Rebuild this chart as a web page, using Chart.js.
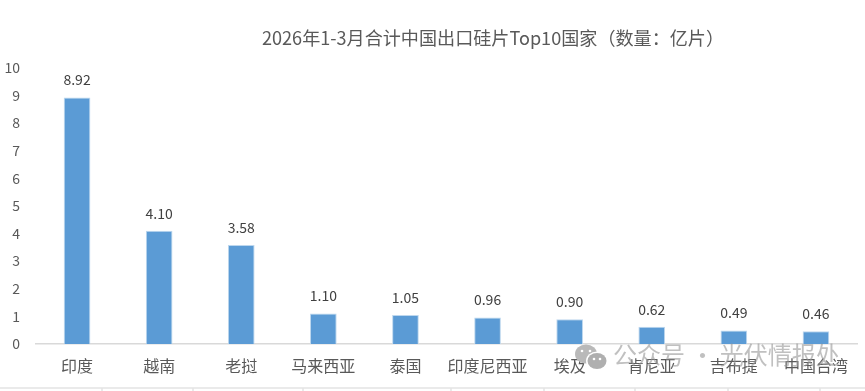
<!DOCTYPE html>
<html><head><meta charset="utf-8">
<script src="https://cdn.jsdelivr.net/npm/chart.js@4/dist/chart.umd.min.js"></script>
<style>html,body{margin:0;padding:0;background:#fff}#w{width:865px;height:391px;position:relative}</style>
</head><body><div id="w"><canvas id="c"></canvas></div>
<script>
const titleText = '2026年1-3月合计中国出口硅片Top10国家（数量：亿片）';
const categories = ['印度','越南','老挝','马来西亚','泰国','印度尼西亚','埃及','肯尼亚','吉布提','中国台湾'];
const values = [8.92,4.10,3.58,1.10,1.05,0.96,0.90,0.62,0.49,0.46];
const yTicks = {min:0,max:10,step:1};
const watermark = '公众号 · 光伏情报处';
const cellTicks = [102,193,303,451,544,635,728,820];
const FONT = '"Noto Sans CJK SC","Noto Sans",sans-serif';

const deco = {
  id:'deco',
  afterLayout(ch){ ch.titleBlock.left = 121; ch.titleBlock.right = 865; },
  beforeDraw(ch){
    const c = ch.ctx; c.save();
    c.strokeStyle = '#E4E4E4'; c.lineWidth = 1.5;
    c.beginPath(); c.moveTo(0,388); c.lineTo(865,388);
    cellTicks.forEach(x=>{c.moveTo(x,388); c.lineTo(x,391);});
    c.stroke(); c.restore();
  },
  afterDatasetsDraw(ch){
    const c = ch.ctx, m = ch.getDatasetMeta(0); c.save();
    c.font = '14px '+FONT; c.fillStyle = '#404040';
    c.textAlign = 'center'; c.textBaseline = 'middle';
    m.data.forEach((b,i)=>c.fillText(values[i].toFixed(2), b.x, b.y-17.5));
    c.restore();
  },
  afterDraw(ch){
    const c = ch.ctx; c.save();
    c.fillStyle = 'rgba(150,150,150,0.6)';
    c.font = '24px '+FONT; c.textAlign='left'; c.textBaseline='middle';
    c.fillText(watermark, 613, 355);
    c.fillStyle = 'rgb(185,185,185)';
    c.beginPath(); c.ellipse(586,354,11,9.5,0,0,Math.PI*2); c.fill();
    c.fillStyle='#fff'; c.beginPath(); c.ellipse(597,361,11,9.5,0,0,Math.PI*2); c.fill();
    c.fillStyle = 'rgb(175,175,175)';
    c.beginPath(); c.ellipse(597,361,9.5,8,0,0,Math.PI*2); c.fill();
    c.fillStyle='#fff';
    [[582,351],[590,351],[594,359],[600,359]].forEach(p=>{c.beginPath();c.arc(p[0],p[1],1.3,0,Math.PI*2);c.fill();});
    c.restore();
  }
};

new Chart(document.getElementById('c'),{
  type:'bar',
  data:{labels:categories,datasets:[{data:values,backgroundColor:'#5B9BD5',borderColor:'#BDD7EE',borderWidth:{left:1,right:1,top:1,bottom:0},barPercentage:0.325,categoryPercentage:1}]},
  options:{
    responsive:true,maintainAspectRatio:false,animation:false,
    layout:{padding:{top:0,right:8,bottom:0,left:0}},
    plugins:{
      legend:{display:false},tooltip:{enabled:false},
      title:{display:true,text:titleText,color:'#595959',font:{family:FONT,size:18.1,weight:'normal'},padding:{top:27,bottom:19}}
    },
    scales:{
      x:{
        grid:{display:false,drawTicks:false},
        border:{color:'#D9D9D9',width:1.5},
        ticks:{color:'#595959',font:{family:FONT,size:16},padding:12,maxRotation:0,autoSkip:false},
        afterFit(s){s.height=47;}
      },
      y:{
        min:yTicks.min,max:yTicks.max,
        grid:{display:false,drawTicks:false},
        border:{display:false},
        ticks:{stepSize:yTicks.step,color:'#595959',font:{family:FONT,size:14},padding:16},
        afterFit(s){s.width=36;}
      }
    }
  },
  plugins:[deco]
});
</script></body></html>
